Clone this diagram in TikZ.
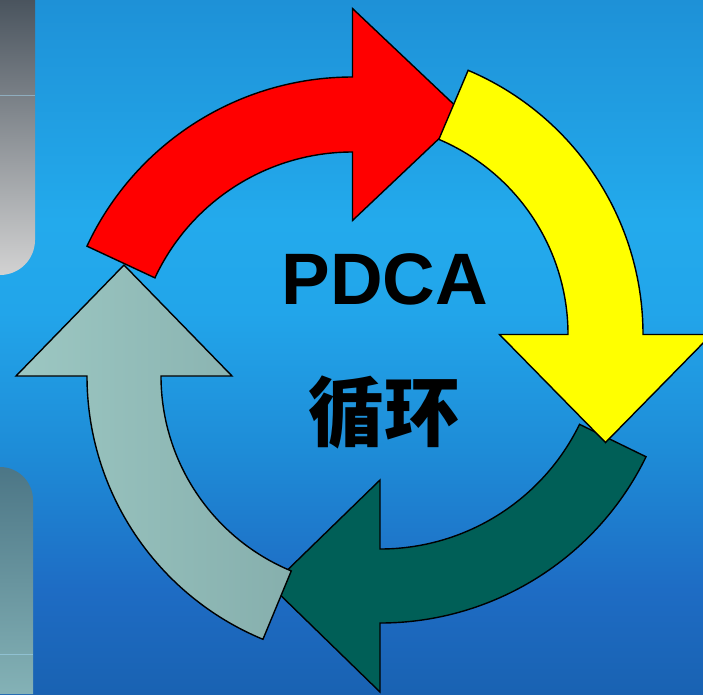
\documentclass[tikz,border=0pt]{standalone}
\usepackage{fontspec}
\setmainfont{Liberation Sans}
\newfontfamily\cjkfont{Noto Sans CJK SC}
\usepackage{tikz}
\usetikzlibrary{calc}

\definecolor{bgtop}{HTML}{1E91D7}
\definecolor{bglight}{HTML}{23AAEC}
\definecolor{bgmid}{HTML}{22A5EA}
\definecolor{bglow}{HTML}{1E8CD7}
\definecolor{bgdeep}{HTML}{1E6CC4}
\definecolor{bgbot}{HTML}{1962B2}
\definecolor{paneldark}{HTML}{4A545E}
\definecolor{panelmid}{HTML}{C4C4C4}
\definecolor{panellight}{HTML}{D2D2D2}
\definecolor{paneltop}{HTML}{4C7686}
\definecolor{panelbot}{HTML}{84B2B6}
\definecolor{planred}{HTML}{FF0000}
\definecolor{doyellow}{HTML}{FFFF00}
\definecolor{checkgreen}{HTML}{005F57}
\definecolor{actlight}{HTML}{9CC7C2}
\definecolor{actdark}{HTML}{86AFAD}

% the picture fills 25bp..75bp of the shading
\pgfdeclareverticalshading{bgshade}{100bp}{color(0bp)=(bgbot); color(25bp)=(bgbot); color(32.5bp)=(bgdeep);
    color(42.5bp)=(bglow); color(52.5bp)=(bgmid); color(59bp)=(bglight); color(75bp)=(bgtop); color(100bp)=(bgtop)}

\tikzset{arrowline/.style={draw=black, line width=0.8pt, line join=miter}}

\begin{document}
\begin{tikzpicture}[x=0.02cm, y=-0.02cm]
    \useasboundingbox (0,0) rectangle (703,694);
    \clip (0,0) rectangle (703,694);

    % Background
    \shade[shading=bgshade] (0,0) rectangle (703,694);

    % Side panels
    \shade[top color=paneldark, middle color=panelmid, bottom color=panellight]
        (0,0) -- (35,0) -- (35,240) arc[start angle=0, end angle=90, radius=35] -- cycle;
    \shade[top color=paneltop, bottom color=panelbot]
        (0,467) arc[start angle=-90, end angle=0, radius=33] -- (33,694) -- (0,694) -- cycle;
    \draw[bgmid!40!white, opacity=0.5, line width=0.3pt] (0,95) -- (35,95);
    \draw[bgmid!40!white, opacity=0.5, line width=0.3pt] (0,654) -- (33,654);

    % Centres of the four arcs
    \coordinate (planc) at (352.5,370);
    \coordinate (doc) at (356,334.5);
    \coordinate (checkc) at (380,327);
    \coordinate (actc) at (372,376);

    % Check (bottom)
    \draw[arrowline, fill=checkgreen] ($(checkc)+(26:296)$) arc[start angle=26, end angle=90, radius=296]
        -- ($(checkc)+(90:365)$) -- ($(checkc)+(90:259)+(180:109)$) -- ($(checkc)+(90:153)$)
        -- ($(checkc)+(90:222)$) arc[start angle=90, end angle=26, radius=222] -- cycle;

    % Act (left)
    \draw[arrowline, left color=actlight, right color=actdark] ($(actc)+(112.5:285)$) arc[start angle=112.5, end angle=180, radius=285]
        -- ($(actc)+(180:356)$) -- ($(actc)+(180:248)+(270:111)$) -- ($(actc)+(180:140)$)
        -- ($(actc)+(180:211)$) arc[start angle=180, end angle=112.5, radius=211] -- cycle;

    % Plan (top)
    \draw[arrowline, fill=planred] ($(planc)+(-155:293)$) arc[start angle=-155, end angle=-90, radius=293]
        -- ($(planc)+(-90:361.5)$) -- ($(planc)+(-90:255.5)+(0:112)$) -- ($(planc)+(-90:149.5)$)
        -- ($(planc)+(-90:218)$) arc[start angle=-90, end angle=-155, radius=218] -- cycle;

    % Do (right)
    \draw[arrowline, fill=doyellow] ($(doc)+(-67:287)$) arc[start angle=-67, end angle=0, radius=287]
        -- ($(doc)+(0:355.5)$) -- ($(doc)+(0:249.5)+(90:108)$) -- ($(doc)+(0:143.5)$)
        -- ($(doc)+(0:212)$) arc[start angle=0, end angle=-67, radius=212] -- cycle;

    % Labels
    \node[font=\bfseries\fontsize{41.5}{48}\selectfont] (pdca) at (385,279) {PDCA};
    \node[font=\cjkfont\bfseries\fontsize{43}{50}\selectfont] (xunhuan) at (384,412) {循环};
\end{tikzpicture}
\end{document}
